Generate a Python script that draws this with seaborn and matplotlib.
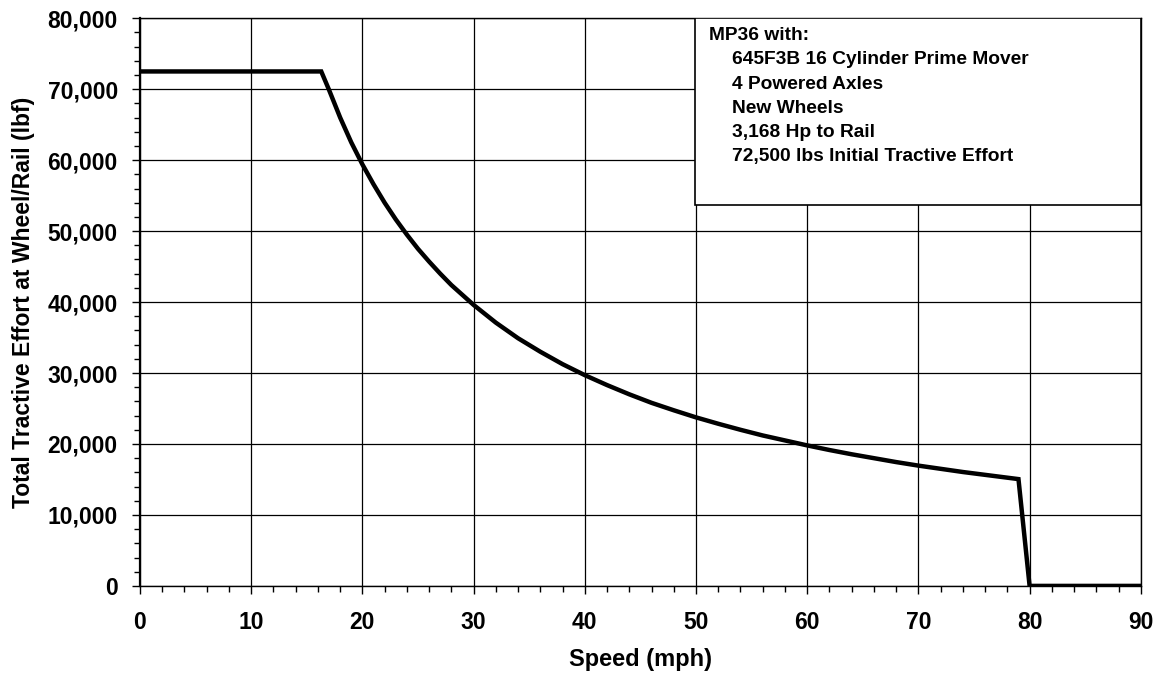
import numpy as np
import pandas as pd
import matplotlib
matplotlib.use("Agg")
import matplotlib.pyplot as plt
from matplotlib.ticker import MultipleLocator, FuncFormatter
from matplotlib.patches import Rectangle
import seaborn as sns

# data
speed_mph = [0, 16, 16.3, 17, 18, 19, 20, 21, 22, 23, 24, 25, 26, 27, 28, 29, 30,
             32, 34, 36, 38, 40, 42, 44, 46, 48, 50, 52, 54, 56, 58, 60, 62, 64,
             66, 68, 70, 72, 74, 76, 78, 79, 80, 90]
tractive_effort = [72500, 72500, 72500, 69900, 66000, 62500, 59400, 56600, 54000,
                   51650, 49500, 47500, 45700, 44000, 42400, 41000, 39600, 37100,
                   34900, 33000, 31250, 29700, 28300, 27000, 25800, 24750, 23750,
                   22850, 22000, 21200, 20500, 19800, 19150, 18550, 18000, 17450,
                   16950, 16500, 16050, 15650, 15250, 15050, 0, 0]

box_title = "MP36 with:"
box_lines = ["645F3B 16 Cylinder Prime Mover",
             "4 Powered Axles",
             "New Wheels",
             "3,168 Hp to Rail",
             "72,500 lbs Initial Tractive Effort"]

df = pd.DataFrame({"speed": speed_mph, "te": tractive_effort})

sns.set_style("ticks")
plt.rcParams["font.family"] = ["Liberation Sans", "DejaVu Sans"]
plt.rcParams["font.weight"] = "bold"
plt.rcParams["text.color"] = "black"
plt.rcParams["axes.labelcolor"] = "black"
plt.rcParams["xtick.color"] = "black"
plt.rcParams["ytick.color"] = "black"

fig = plt.figure(figsize=(11.57, 6.75), dpi=100)
ax = fig.add_axes([0.121, 0.132, 0.865, 0.841])

sns.lineplot(data=df, x="speed", y="te", color="black", linewidth=3.2,
             ax=ax, sort=False, solid_joinstyle="miter")

ax.set_xlim(0, 90)
ax.set_ylim(0, 80000)
ax.xaxis.set_major_locator(MultipleLocator(10))
ax.xaxis.set_minor_locator(MultipleLocator(2))
ax.yaxis.set_major_locator(MultipleLocator(10000))
ax.yaxis.set_minor_locator(MultipleLocator(2000))
ax.yaxis.set_major_formatter(FuncFormatter(lambda v, p: f"{int(v):,}"))

ax.grid(True, which="major", color="black", linewidth=0.9)
ax.tick_params(axis="both", which="major", direction="out", length=6, width=1,
               labelsize=16.5, color="black", labelcolor="black")
ax.tick_params(axis="x", which="major", pad=12)
ax.tick_params(axis="y", which="major", pad=10)
ax.tick_params(axis="both", which="minor", direction="out", length=4, width=1,
               color="black")
for lbl in ax.get_xticklabels() + ax.get_yticklabels():
    lbl.set_fontweight("bold")
for s in ax.spines.values():
    s.set_color("black")
    s.set_linewidth(1)
ax.spines["left"].set_linewidth(1.6)

ax.set_xlabel("Speed (mph)", fontsize=17, fontweight="bold", labelpad=10,
              color="black")
ax.set_ylabel("Total Tractive Effort at Wheel/Rail (lbf)", fontsize=16.5,
              fontweight="bold", labelpad=9, color="black")

# annotation box
ax.add_patch(Rectangle((0.555, 0.671), 0.445, 0.329, transform=ax.transAxes,
                       facecolor="white", edgecolor="black", linewidth=1.2,
                       zorder=5))
ax.text(0.569, 0.984, box_title, transform=ax.transAxes, fontsize=13.8,
        fontweight="bold", va="top", zorder=6, color="black")
for i, line in enumerate(box_lines):
    ax.text(0.592, 0.984 - (i + 1) * 0.0425, line, transform=ax.transAxes,
            fontsize=13.8, fontweight="bold", va="top", zorder=6, color="black")

fig.savefig("out.png", dpi=100, facecolor="white")
